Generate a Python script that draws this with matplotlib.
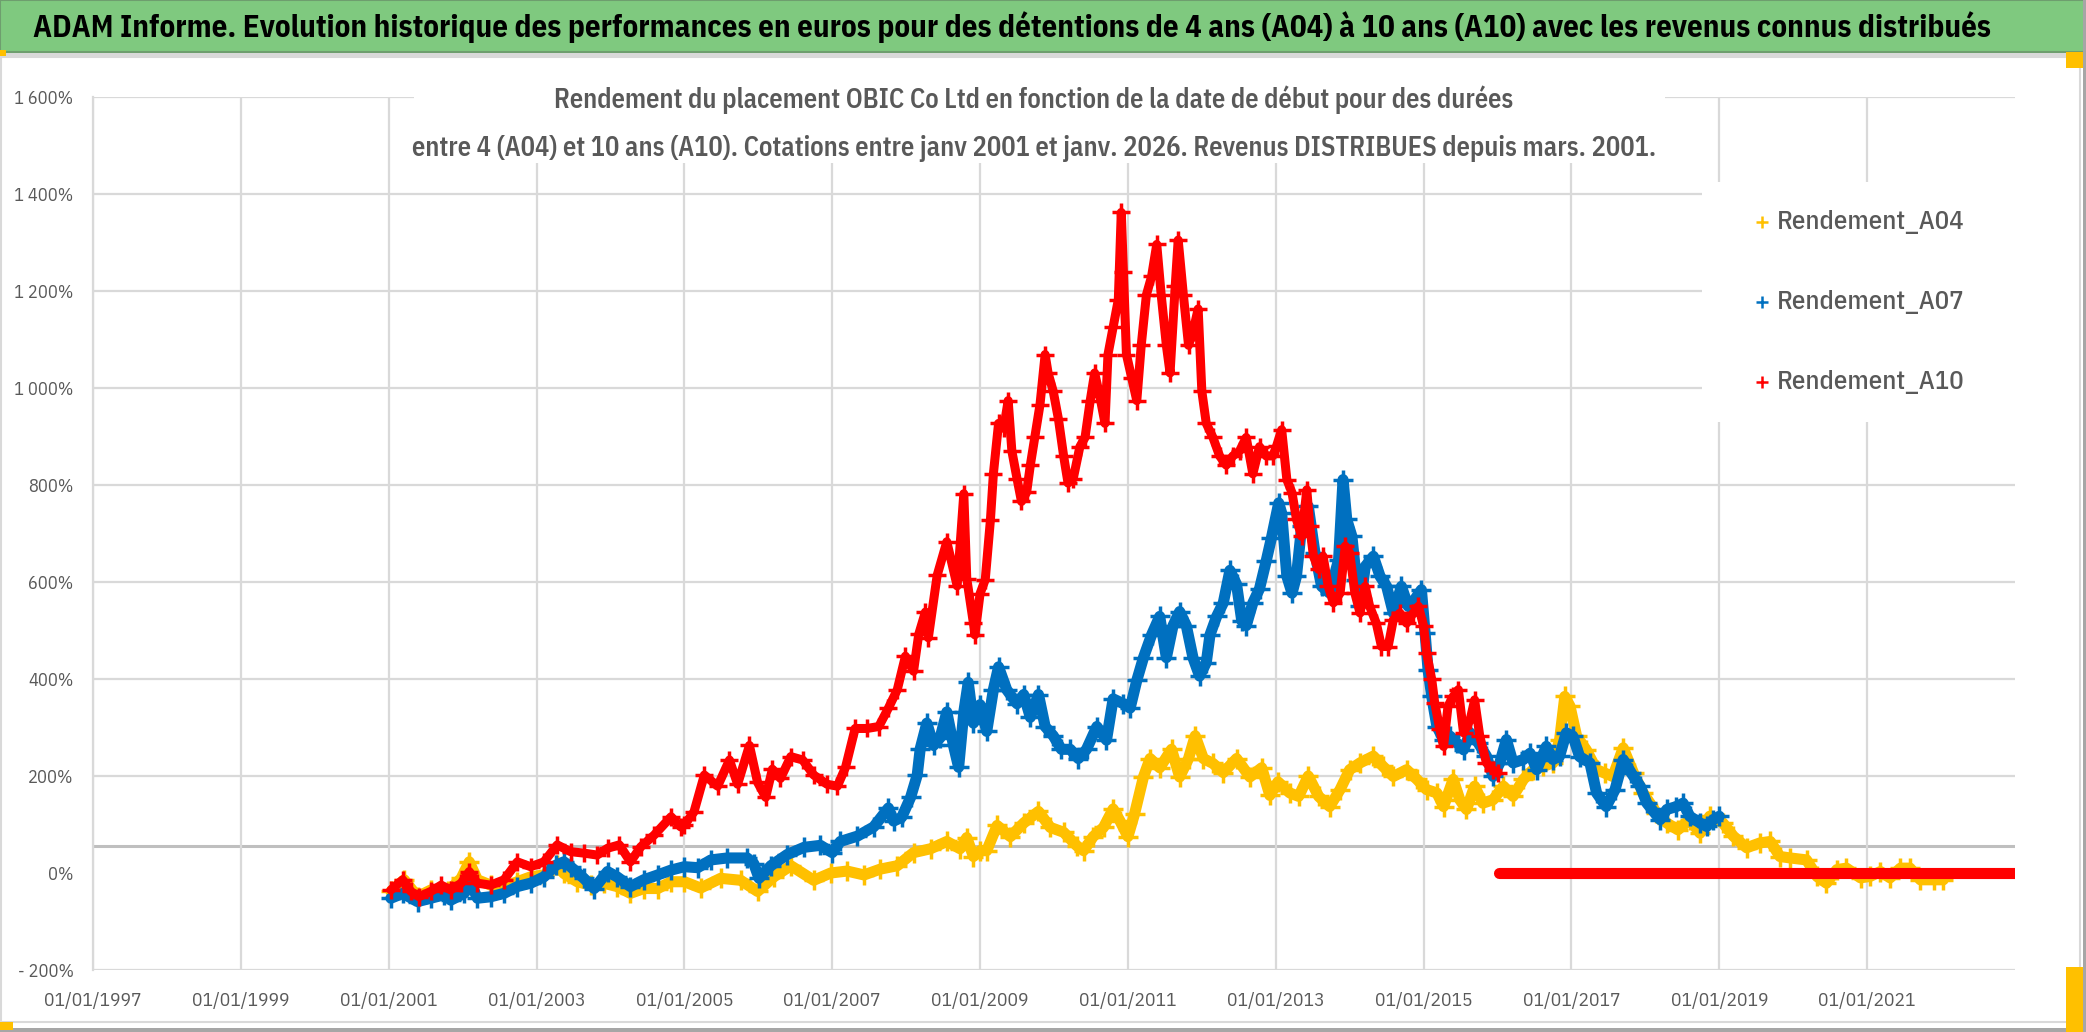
import matplotlib.pyplot as plt
from matplotlib.lines import Line2D
from matplotlib.patches import Rectangle

plt.rcParams['font.family'] = ['IBM Plex Sans Condensed', 'DejaVu Sans']

W, H = 2086, 1032

# values: decimal years, returns in %
dates_a04 = [2001.03, 2001.21, 2001.39, 2001.57, 2001.80, 2001.98, 2002.09, 2002.20, 2002.38, 2002.56,
             2002.74, 2002.92, 2003.10, 2003.28, 2003.37, 2003.55, 2003.73, 2003.91, 2004.09, 2004.27,
             2004.45, 2004.64, 2004.82, 2005.00, 2005.22, 2005.49, 2005.76, 2005.99, 2006.21, 2006.44,
             2006.75, 2006.98, 2007.20, 2007.43, 2007.65, 2007.88, 2008.10, 2008.33, 2008.55, 2008.73,
             2008.82, 2008.91, 2009.00, 2009.09, 2009.23, 2009.41, 2009.59, 2009.79, 2009.95, 2010.13,
             2010.31, 2010.40, 2010.53, 2010.67, 2010.80, 2010.89, 2011.00, 2011.09, 2011.21, 2011.30,
             2011.43, 2011.59, 2011.70, 2011.82, 2011.91, 2012.02, 2012.15, 2012.29, 2012.47, 2012.65,
             2012.81, 2012.92, 2013.03, 2013.19, 2013.31, 2013.44, 2013.58, 2013.73, 2013.87, 2014.00,
             2014.14, 2014.32, 2014.45, 2014.59, 2014.77, 2014.91, 2015.04, 2015.18, 2015.27, 2015.40,
             2015.49, 2015.58, 2015.69, 2015.80, 2015.94, 2016.08, 2016.21, 2016.35, 2016.48, 2016.62,
             2016.75, 2016.84, 2016.91, 2016.98, 2017.07, 2017.20, 2017.34, 2017.45, 2017.56, 2017.70,
             2017.84, 2017.97, 2018.15, 2018.29, 2018.44, 2018.60, 2018.74, 2018.87, 2019.05, 2019.19,
             2019.37, 2019.55, 2019.69, 2019.82, 2019.96, 2020.18, 2020.32, 2020.45, 2020.59, 2020.72,
             2020.91, 2021.04, 2021.18, 2021.31, 2021.45, 2021.58, 2021.72, 2021.90, 2022.03]
rend_a04 = [-38, -14, -49, -35, -38, -11, 23, -14, -25, -28,
            -18, -8, -4, 16, -1, -18, -25, -21, -28, -42,
            -32, -32, -18, -18, -31, -11, -15, -38, -8, 15,
            -15, 0, 4, -4, 8, 15, 42, 50, 65, 50,
            73, 34, 46, 46, 98, 75, 103, 127, 94, 84,
            56, 46, 75, 94, 132, 108, 75, 122, 198, 236,
            217, 255, 198, 236, 283, 236, 226, 207, 236, 198,
            217, 160, 188, 165, 158, 200, 158, 137, 172, 213,
            227, 241, 220, 199, 213, 193, 172, 165, 137, 193,
            151, 131, 179, 144, 151, 179, 158, 193, 213, 220,
            227, 275, 364, 344, 282, 254, 213, 206, 199, 258,
            206, 165, 124, 103, 89, 110, 82, 117, 103, 76,
            52, 62, 65, 34, 31, 27, -7, -21, 7, 10,
            -10, -7, 3, -10, 10, 10, -14, -14, -14]

dates_a07 = [2001.03, 2001.19, 2001.39, 2001.57, 2001.75, 2001.84, 2002.02, 2002.11, 2002.20, 2002.38,
             2002.56, 2002.74, 2002.92, 2003.10, 2003.26, 2003.37, 2003.46, 2003.64, 2003.78, 2003.96,
             2004.09, 2004.27, 2004.45, 2004.64, 2004.82, 2005.00, 2005.18, 2005.36, 2005.58, 2005.85,
             2005.94, 2006.01, 2006.17, 2006.39, 2006.62, 2006.84, 2007.00, 2007.11, 2007.34, 2007.56,
             2007.76, 2007.83, 2007.94, 2008.06, 2008.15, 2008.19, 2008.28, 2008.37, 2008.46, 2008.55,
             2008.64, 2008.71, 2008.78, 2008.84, 2008.91, 2009.00, 2009.09, 2009.18, 2009.25, 2009.36,
             2009.50, 2009.59, 2009.68, 2009.79, 2009.88, 2009.99, 2010.10, 2010.22, 2010.33, 2010.44,
             2010.58, 2010.71, 2010.80, 2010.94, 2011.03, 2011.12, 2011.21, 2011.32, 2011.43, 2011.52,
             2011.61, 2011.70, 2011.79, 2011.88, 2011.97, 2012.06, 2012.11, 2012.20, 2012.29, 2012.38,
             2012.47, 2012.54, 2012.60, 2012.69, 2012.78, 2012.87, 2012.94, 2013.04, 2013.08, 2013.15,
             2013.22, 2013.28, 2013.35, 2013.44, 2013.53, 2013.62, 2013.73, 2013.85, 2013.91, 2013.96,
             2014.03, 2014.09, 2014.14, 2014.21, 2014.32, 2014.41, 2014.50, 2014.59, 2014.70, 2014.79,
             2014.88, 2014.97, 2015.02, 2015.06, 2015.11, 2015.18, 2015.27, 2015.36, 2015.45, 2015.54,
             2015.63, 2015.74, 2015.85, 2015.94, 2016.03, 2016.12, 2016.21, 2016.35, 2016.44, 2016.53,
             2016.66, 2016.75, 2016.84, 2016.93, 2017.02, 2017.11, 2017.25, 2017.34, 2017.47, 2017.59,
             2017.70, 2017.81, 2017.93, 2018.02, 2018.20, 2018.29, 2018.42, 2018.51, 2018.60, 2018.74,
             2018.83, 2018.92, 2019.00]
rend_a07 = [-52, -42, -59, -52, -45, -56, -42, -21, -52, -49,
            -42, -28, -21, -8, 16, 23, 13, -11, -32, 3,
            -8, -28, -14, -4, 6, 13, 11, 27, 31, 31,
            19, -11, 15, 38, 53, 57, 42, 65, 76, 95,
            134, 107, 115, 156, 202, 256, 309, 263, 279, 332,
            263, 218, 332, 393, 309, 347, 292, 378, 425, 378,
            349, 368, 321, 368, 302, 283, 255, 255, 236, 255,
            302, 274, 359, 349, 340, 397, 444, 491, 529, 444,
            510, 539, 510, 444, 406, 434, 491, 529, 557, 624,
            595, 520, 510, 557, 586, 643, 690, 763, 742, 612,
            577, 612, 715, 756, 660, 591, 577, 646, 811, 729,
            694, 605, 550, 632, 653, 612, 591, 536, 591, 550,
            564, 584, 495, 419, 364, 302, 275, 282, 268, 254,
            289, 268, 241, 199, 227, 275, 227, 234, 247, 213,
            261, 234, 241, 289, 282, 240, 227, 165, 137, 172,
            234, 206, 179, 144, 110, 131, 137, 144, 117, 103,
            96, 110, 117]

dates_a10 = [2001.03, 2001.19, 2001.30, 2001.41, 2001.57, 2001.71, 2001.84, 2001.98, 2002.09, 2002.20,
             2002.38, 2002.56, 2002.74, 2002.92, 2003.10, 2003.28, 2003.46, 2003.64, 2003.82, 2003.96,
             2004.12, 2004.27, 2004.41, 2004.59, 2004.82, 2004.95, 2005.00, 2005.13, 2005.27, 2005.45,
             2005.61, 2005.72, 2005.88, 2005.99, 2006.10, 2006.19, 2006.30, 2006.44, 2006.60, 2006.75,
             2006.93, 2007.07, 2007.18, 2007.31, 2007.47, 2007.63, 2007.76, 2007.88, 2007.99, 2008.10,
             2008.17, 2008.26, 2008.30, 2008.42, 2008.55, 2008.69, 2008.78, 2008.82, 2008.91, 2008.93,
             2009.00, 2009.07, 2009.14, 2009.18, 2009.25, 2009.32, 2009.38, 2009.43, 2009.50, 2009.56,
             2009.63, 2009.68, 2009.74, 2009.81, 2009.88, 2009.92, 2009.99, 2010.06, 2010.13, 2010.19,
             2010.26, 2010.35, 2010.42, 2010.49, 2010.55, 2010.62, 2010.69, 2010.73, 2010.80, 2010.87,
             2010.91, 2010.94, 2010.98, 2011.05, 2011.12, 2011.18, 2011.25, 2011.32, 2011.39, 2011.45,
             2011.52, 2011.57, 2011.64, 2011.68, 2011.75, 2011.82, 2011.88, 2011.95, 2012.00, 2012.06,
             2012.15, 2012.24, 2012.33, 2012.42, 2012.51, 2012.60, 2012.69, 2012.78, 2012.87, 2012.96,
             2013.01, 2013.08, 2013.15, 2013.22, 2013.28, 2013.35, 2013.42, 2013.46, 2013.51, 2013.58,
             2013.64, 2013.71, 2013.78, 2013.87, 2013.94, 2014.00, 2014.07, 2014.14, 2014.21, 2014.27,
             2014.36, 2014.43, 2014.52, 2014.59, 2014.68, 2014.77, 2014.86, 2014.93, 2015.00, 2015.04,
             2015.11, 2015.15, 2015.22, 2015.27, 2015.33, 2015.40, 2015.47, 2015.54, 2015.63, 2015.69,
             2015.76, 2015.85, 2015.94, 2016.00]
rend_a10 = [-35, -14, -38, -49, -38, -25, -35, -21, 3, -21,
            -25, -14, 23, 13, 23, 58, 44, 41, 37, 51,
            58, 23, 54, 78, 116, 95, 99, 126, 202, 179,
            233, 183, 263, 187, 156, 214, 195, 240, 233, 202,
            183, 179, 218, 298, 298, 302, 340, 378, 447, 416,
            492, 538, 485, 614, 683, 592, 782, 607, 515, 491,
            576, 605, 728, 823, 927, 917, 974, 870, 813, 766,
            785, 841, 898, 965, 1069, 1031, 993, 936, 860, 804,
            813, 879, 898, 974, 1031, 983, 927, 1069, 1125, 1182,
            1362, 1239, 1069, 1021, 974, 1088, 1192, 1230, 1296, 1192,
            1088, 1031, 1211, 1305, 1192, 1088, 1116, 1163, 993, 927,
            898, 860, 841, 860, 870, 898, 823, 879, 860, 860,
            880, 914, 811, 784, 729, 694, 790, 715, 653, 626,
            653, 591, 557, 577, 674, 660, 577, 536, 591, 550,
            515, 467, 467, 522, 536, 515, 536, 550, 509, 454,
            399, 351, 296, 261, 344, 364, 378, 289, 316, 357,
            282, 227, 213, 206]
# after 2016 the 10-year series is flat at zero
dates_a10_zero = [2016.02, 2017.0, 2018.0, 2019.0, 2020.0, 2021.0, 2022.0, 2023.0]
rend_a10_zero = [0, 0, 0, 0, 0, 0, 0, 0]

series_names = ['Rendement_A04', 'Rendement_A07', 'Rendement_A10']
series_colors = ['#FFC000', '#0070C0', '#FF0000']

x_years = list(range(1997, 2022, 2))
x_labels = ['01/01/%d' % y for y in x_years]
y_ticks = [-200, 0, 200, 400, 600, 800, 1000, 1200, 1400, 1600]
y_labels = ['- 200%', '0%', '200%', '400%', '600%', '800%', '1 000%', '1 200%', '1 400%', '1 600%']

title = ("ADAM Informe. Evolution historique des performances en euros pour des détentions "
         "de 4 ans (A04) à 10 ans (A10) avec les revenus connus distribués")
sub1 = "Rendement du placement OBIC Co Ltd en fonction de la date de début pour des durées"
sub2 = ("entre 4 (A04) et 10 ans (A10). Cotations entre janv 2001 et janv. 2026. "
        "Revenus DISTRIBUES depuis mars. 2001.")

fig = plt.figure(figsize=(W / 100, H / 100), dpi=100)
ax = fig.add_axes([93 / W, 62 / H, 1922 / W, 873 / H])

grid_c = '#D9D9D9'
for v in y_ticks:
    if v != 0:
        ax.axhline(v, color=grid_c, lw=1.6, zorder=0)
ax.axhline(56, color='#BFBFBF', lw=2.2, zorder=0)
for yr in x_years:
    ax.axvline(yr, color=grid_c, lw=1.6, zorder=0)

style = dict(marker='+', mew=2.5, solid_joinstyle='round', solid_capstyle='round')
ax.plot(dates_a04, rend_a04, color=series_colors[0], lw=8, ms=14, zorder=2, **style)
ax.plot(dates_a07, rend_a07, color=series_colors[1], lw=8, ms=14, zorder=3, **style)
ax.plot(dates_a10, rend_a10, color=series_colors[2], lw=6.5, ms=13, zorder=4, **style)
ax.plot(dates_a10_zero, rend_a10_zero, color=series_colors[2], lw=8, zorder=4,
        solid_capstyle='round')

ax.set_xlim(1997, 2023)
ax.set_ylim(-200, 1600)
ax.set_xticks(x_years)
ax.set_xticklabels(x_labels)
ax.set_yticks(y_ticks)
ax.set_yticklabels(y_labels)
ax.tick_params(axis='x', length=0, pad=16, labelsize=17, labelcolor='#595959')
ax.tick_params(axis='y', length=0, pad=14, labelsize=16, labelcolor='#595959')
for s in ['top', 'right', 'bottom']:
    ax.spines[s].set_visible(False)
ax.spines['left'].set_color(grid_c)
ax.spines['left'].set_linewidth(1.6)


def px_rect(x0, y0, x1, y1, **kw):
    r = Rectangle((x0 / W, 1 - y1 / H), (x1 - x0) / W, (y1 - y0) / H,
                  transform=fig.transFigure, **kw)
    fig.add_artist(r)
    return r


def fit(t, target):
    # scale a text so that its width in pixels matches the reference
    fig.canvas.draw()
    w = t.get_window_extent().width
    t.set_fontsize(t.get_fontsize() * target / w)


# title bar
px_rect(0, 0, W, 52, facecolor='#7FC97F', edgecolor='#6E9E6E', lw=1.5, zorder=1)
px_rect(0, 53, 2080, 57, facecolor='#D9D9D9', edgecolor='none', zorder=1)
t_title = fig.text(33 / W, 1 - 27 / H, title, fontsize=27, fontweight='bold', color='black',
                   va='center', ha='left', zorder=3)

# frame around chart area
px_rect(1, 57, 2080, 1022, facecolor='none', edgecolor='#D9D9D9', lw=1.5, zorder=1)
px_rect(0, 1028, W, 1032, facecolor='#A6A6A6', edgecolor='none', zorder=1)
px_rect(2083, 0, W, H, facecolor='#A6A6A6', edgecolor='none', zorder=1)
px_rect(0, 50, 6, 56, facecolor='#FFC000', edgecolor='none', zorder=2)
px_rect(2066, 52, 2083, 68, facecolor='#FFC000', edgecolor='none', zorder=2)
px_rect(2066, 967, 2083, 1032, facecolor='#FFC000', edgecolor='none', zorder=2)
px_rect(0, 1022, 13, 1030, facecolor='#FFC000', edgecolor='none', zorder=2)

# subtitle box
px_rect(414, 80, 1665, 163, facecolor='white', edgecolor='none', zorder=1)
t_sub1 = fig.text(1034 / W, 1 - 100 / H, sub1, fontsize=20, fontweight='semibold', color='#595959',
                  ha='center', va='center', zorder=3)
t_sub2 = fig.text(1034 / W, 1 - 149 / H, sub2, fontsize=20, fontweight='semibold', color='#595959',
                  ha='center', va='center', zorder=3)

# legend
px_rect(1702, 182, 2015, 422, facecolor='white', edgecolor='none', zorder=1)
leg_texts = []
for i, (name, c) in enumerate(zip(series_names, series_colors)):
    yy = 1 - (222 + 80 * i) / H
    fig.add_artist(Line2D([1762 / W], [yy], marker='+', ms=8, mew=1.8, color=c,
                          transform=fig.transFigure, zorder=3))
    leg_texts.append(fig.text(1777 / W, yy, name, fontsize=20, fontweight='medium', color='#595959',
                              ha='left', va='center', zorder=3))

fit(t_title, 1949)
fit(t_sub2, 1244)
t_sub1.set_fontsize(t_sub2.get_fontsize())
fit(leg_texts[0], 188)
for t in leg_texts[1:]:
    t.set_fontsize(leg_texts[0].get_fontsize())

fig.canvas.draw()
wx = ax.get_xticklabels()[0].get_window_extent().width
ax.tick_params(axis='x', labelsize=17 * 98 / wx)
wy = ax.get_yticklabels()[-1].get_window_extent().width
ax.tick_params(axis='y', labelsize=16 * 59 / wy)

fig.savefig('out.png', dpi=100)
